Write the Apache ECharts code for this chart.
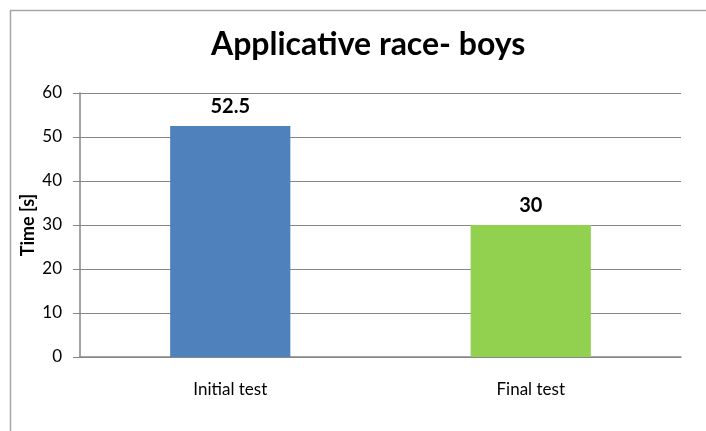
<!DOCTYPE html>
<html>
<head>
<meta charset="utf-8">
<script src="https://cdn.jsdelivr.net/npm/echarts@6/dist/echarts.min.js"></script>
<style>
  html, body { margin: 0; padding: 0; background: #fff; }
  #chart { width: 706px; height: 431px; }
</style>
</head>
<body>
<div id="chart"></div>
<script>
// data
const categories = ['Initial test', 'Final test']
const times = [52.5, 30]
const barColors = ['#4F81BD', '#92D050']

const chart = echarts.init(document.getElementById('chart'))

const option = {
  animation: false,
  textStyle: { fontFamily: 'Lato' },
  graphic: [
    {
      type: 'rect',
      shape: { x: 10.5, y: 10.5, width: 760, height: 460 },
      style: { fill: 'none', stroke: '#a6a6a6', lineWidth: 1.5 }
    }
  ],
  title: {
    text: 'Applicative race- boys',
    left: 206,
    top: 24,
    textStyle: {
      fontFamily: 'Lato',
      fontSize: 32,
      fontWeight: 'bold',
      color: '#000'
    }
  },
  grid: {
    left: 80,
    right: 25,
    top: 93,
    bottom: 74
  },
  xAxis: {
    type: 'category',
    data: categories,
    axisLine: { lineStyle: { color: '#868686', width: 1.5 } },
    axisTick: { show: false },
    axisLabel: {
      color: '#000',
      fontSize: 17,
      margin: 24
    }
  },
  yAxis: {
    type: 'value',
    min: 0,
    max: 60,
    interval: 10,
    name: 'Time [s]',
    nameLocation: 'middle',
    nameRotate: 90,
    nameGap: 43,
    nameMoveOverlap: false,
    nameTextStyle: {
      color: '#000',
      fontSize: 18,
      fontWeight: 'bold'
    },
    axisLine: { show: true, lineStyle: { color: '#868686', width: 1.5 } },
    axisTick: { show: true, length: 7, lineStyle: { color: '#868686' } },
    axisLabel: {
      color: '#000',
      fontSize: 17,
      margin: 18
    },
    splitLine: { lineStyle: { color: '#868686', width: 1.2 } }
  },
  series: [
    {
      type: 'bar',
      data: times.map((v, i) => ({ value: v, itemStyle: { color: barColors[i] } })),
      barWidth: '40%',
      label: {
        show: true,
        position: 'top',
        distance: 9,
        color: '#000',
        fontSize: 20,
        fontWeight: 'bold'
      }
    }
  ]
}

chart.setOption(option)
</script>
</body>
</html>
